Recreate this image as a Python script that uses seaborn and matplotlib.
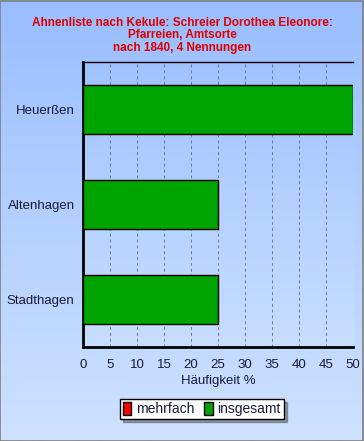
import numpy as np
import pandas as pd
import matplotlib
matplotlib.use("Agg")
import matplotlib.pyplot as plt
from matplotlib.patches import Patch, Rectangle
from matplotlib.ticker import MultipleLocator
import seaborn as sns

categories = ["Heuerßen", "Altenhagen", "Stadthagen"]
insgesamt = [50, 25, 25]
mehrfach = [0, 0, 0]
x_ticks = [0, 5, 10, 15, 20, 25, 30, 35, 40, 45, 50]
title_lines = ["Ahnenliste nach Kekule: Schreier Dorothea Eleonore:",
               "Pfarreien, Amtsorte", "nach 1840, 4 Nennungen"]

sns.set_style("white")
plt.rcParams['font.family'] = ['Liberation Sans', 'DejaVu Sans']

fig = plt.figure(figsize=(3.64, 4.41), dpi=100)

# background gradient
bg = fig.add_axes([0, 0, 1, 1], zorder=-10)
grad = np.linspace(0, 1, 256).reshape(-1, 1)
top_c = np.array([153, 190, 255]) / 255
bot_c = np.array([206, 226, 255]) / 255
img = top_c[None, None, :] * (1 - grad[:, :, None]) + bot_c[None, None, :] * grad[:, :, None]
bg.imshow(img, aspect='auto', extent=[0, 1, 0, 1])
bg.set_xlim(0, 1); bg.set_ylim(0, 1)
bg.axis('off')
bg.add_patch(Rectangle((0.001, 0.001), 0.997, 0.997, fill=False, edgecolor='#808080', lw=1.2))

ax = fig.add_axes([0.228, 0.213, 0.742, 0.646])
ax.set_facecolor('none')
# plot-area gradient
pgrad = np.linspace(0, 1, 256).reshape(-1, 1)
ptop = np.array([160, 195, 255]) / 255
pbot = np.array([200, 222, 255]) / 255
pimg = ptop[None, None, :] * (1 - pgrad[:, :, None]) + pbot[None, None, :] * pgrad[:, :, None]
ax.imshow(pimg, aspect='auto', extent=[0, 50, 2.5, -0.5], zorder=0)

df = pd.DataFrame({"Ort": categories, "insgesamt": insgesamt, "mehrfach": mehrfach})
sns.barplot(data=df, y="Ort", x="insgesamt", color="#00a400", width=0.52,
            edgecolor='black', linewidth=1.0, orient='h', ax=ax, zorder=3, saturation=1)

txt_col = '#1a1a3a'
ax.set_xlim(0, 50)
ax.set_ylim(2.5, -0.5)
ax.set_xticks(x_ticks)
ax.set_xticklabels([str(t) for t in x_ticks], fontsize=9.5)
ax.xaxis.set_minor_locator(MultipleLocator(1))
ax.tick_params(axis='x', which='major', direction='out', length=3.5, width=1, pad=5,
               colors='black', labelcolor=txt_col)
ax.tick_params(axis='x', which='minor', direction='out', length=1.5, width=0.7, colors='black')
ax.tick_params(axis='y', which='major', direction='out', length=4, width=0.8, pad=2,
               labelsize=9.5, colors='black', labelcolor=txt_col)
ax.set_ylabel("")
ax.set_xlabel("Häufigkeit %", fontsize=9.5, labelpad=3, color=txt_col)
ax.grid(axis='x', which='major', linestyle=(0, (3, 3)), color='#6878a0', lw=0.7)
ax.set_axisbelow(True)
for g in ax.get_xgridlines():
    g.set_zorder(1)

ax.spines['left'].set_linewidth(2)
ax.spines['bottom'].set_linewidth(2)
ax.spines['top'].set_linewidth(1)
ax.spines['right'].set_visible(False)
for s in ax.spines.values():
    s.set_color('black')

fig.text(0.5, 0.962, "\n".join(title_lines), ha='center', va='top', color='#e00000',
         fontsize=8.5, fontweight='bold', linespacing=1.05)

handles = [Patch(facecolor='#ff0000', edgecolor='black', label='mehrfach'),
           Patch(facecolor='#00a400', edgecolor='black', label='insgesamt')]
leg = fig.legend(handles=handles, loc='center', bbox_to_anchor=(0.555, 0.073), ncol=2,
                 fontsize=10, frameon=True, fancybox=False, shadow=True,
                 handlelength=0.6, handleheight=1.1, handletextpad=0.35, columnspacing=0.7,
                 borderpad=0.2, labelcolor=txt_col)
leg.get_frame().set_edgecolor('black')
leg.get_frame().set_facecolor('white')
leg.get_frame().set_linewidth(1)

fig.savefig("out.png", dpi=100)
